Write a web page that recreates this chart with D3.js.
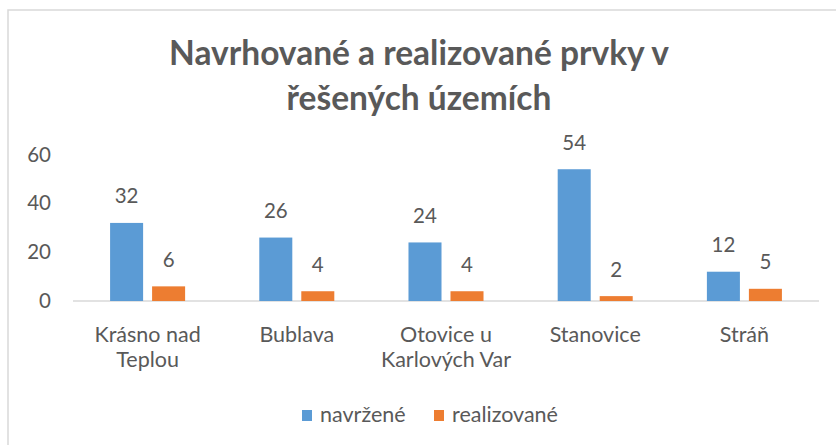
<!DOCTYPE html>
<html>
<head>
<meta charset="utf-8">
<script src="https://cdn.jsdelivr.net/npm/d3@7"></script>
<style>
  html, body { margin: 0; padding: 0; background: #fff; }
  svg { display: block; }
  text { font-family: Lato, "Noto Sans", sans-serif; fill: #595959; }
</style>
</head>
<body>
<div id="chart"></div>
<script>
const titleLines = ["Navrhované a realizované prvky v", "řešených územích"];
const categories = ["Krásno nad Teplou", "Bublava", "Otovice u Karlových Var", "Stanovice", "Stráň"];
const seriesNames = ["navržené", "realizované"];
const navrzene = [32, 26, 24, 54, 12];
const realizovane = [6, 4, 4, 2, 5];
const yTicks = [0, 20, 40, 60];
const colors = ["#5B9BD5", "#ED7D31"];

const W = 836, H = 445;
const svg = d3.select("#chart").append("svg").attr("width", W).attr("height", H);

// frame (extends past right/bottom edges as in reference)
svg.append("rect").attr("x", 8).attr("y", 10).attr("width", 900).attr("height", 600)
  .attr("fill", "none").attr("stroke", "#d9d9d9").attr("stroke-width", 1.5);

// title
const title = svg.append("text").attr("text-anchor", "middle")
  .style("font-weight", "bold").style("font-size", "33.5px");
title.selectAll("tspan").data(titleLines).join("tspan")
  .attr("x", 419).attr("y", (d, i) => 65 + i * 45).text(d => d);

const x0 = d3.scaleBand().domain(categories).range([73, 819]).padding(0);
const x1 = d3.scaleBand().domain(seriesNames).range([0, x0.bandwidth()])
  .paddingInner(0.214).paddingOuter(0.883);
const y = d3.scaleLinear().domain([0, 60]).range([301, 154.6]);

// y axis labels
const yAxis = d3.axisLeft(y).tickValues(yTicks).tickSize(0).tickPadding(22);
const gy = svg.append("g").attr("transform", "translate(73,0)").call(yAxis);
gy.select(".domain").remove();
gy.selectAll("text").style("font-size", "20.5px").style("fill", "#595959")
  .style("font-family", "Lato, sans-serif");

// baseline
svg.append("line").attr("x1", 73).attr("x2", 819).attr("y1", y(0)).attr("y2", y(0))
  .attr("stroke", "#d9d9d9").attr("stroke-width", 1.5);

const data = categories.map((c, i) => ({ cat: c, values: [navrzene[i], realizovane[i]] }));

const groups = svg.selectAll(".grp").data(data).join("g")
  .attr("transform", d => `translate(${x0(d.cat)},0)`);

groups.selectAll("rect").data(d => d.values.map((v, j) => ({ s: seriesNames[j], v, j })))
  .join("rect")
  .attr("x", d => x1(d.s)).attr("width", x1.bandwidth())
  .attr("y", d => y(d.v)).attr("height", d => y(0) - y(d.v))
  .attr("fill", d => colors[d.j]);

groups.selectAll("text.lbl").data(d => d.values.map((v, j) => ({ s: seriesNames[j], v, j })))
  .join("text").attr("class", "lbl")
  .attr("text-anchor", "middle")
  .attr("x", d => x1(d.s) + x1.bandwidth() / 2)
  .attr("y", d => y(d.v) - 19.5)
  .style("font-size", "20.5px")
  .text(d => d.v);

// category labels with wrapping
const maxW = 140;
const catText = svg.selectAll("text.cat").data(categories).join("text")
  .attr("class", "cat").attr("text-anchor", "middle")
  .style("font-size", "21.5px")
  .attr("x", d => x0(d) + x0.bandwidth() / 2).attr("y", 342);
catText.each(function(d) {
  const t = d3.select(this);
  const words = d.split(" ");
  let lines = [], cur = [];
  const probe = t.append("tspan");
  words.forEach(w => {
    const test = cur.concat([w]).join(" ");
    probe.text(test);
    if (probe.node().getComputedTextLength() > maxW && cur.length) {
      lines.push(cur.join(" ")); cur = [w];
    } else cur.push(w);
  });
  lines.push(cur.join(" "));
  probe.remove();
  const cx = +t.attr("x");
  lines.forEach((l, i) => t.append("tspan").attr("x", cx).attr("y", 342 + i * 24.5).text(l));
});

// legend
const leg = svg.append("g");
const legItems = [{ name: seriesNames[0], x: 302 }, { name: seriesNames[1], x: 434 }];
legItems.forEach((it, i) => {
  leg.append("rect").attr("x", it.x).attr("y", 410).attr("width", 10).attr("height", 11)
    .attr("fill", colors[i]);
  leg.append("text").attr("x", it.x + 18).attr("y", 421.5).style("font-size", "21.5px").text(it.name);
});
</script>
</body>
</html>
